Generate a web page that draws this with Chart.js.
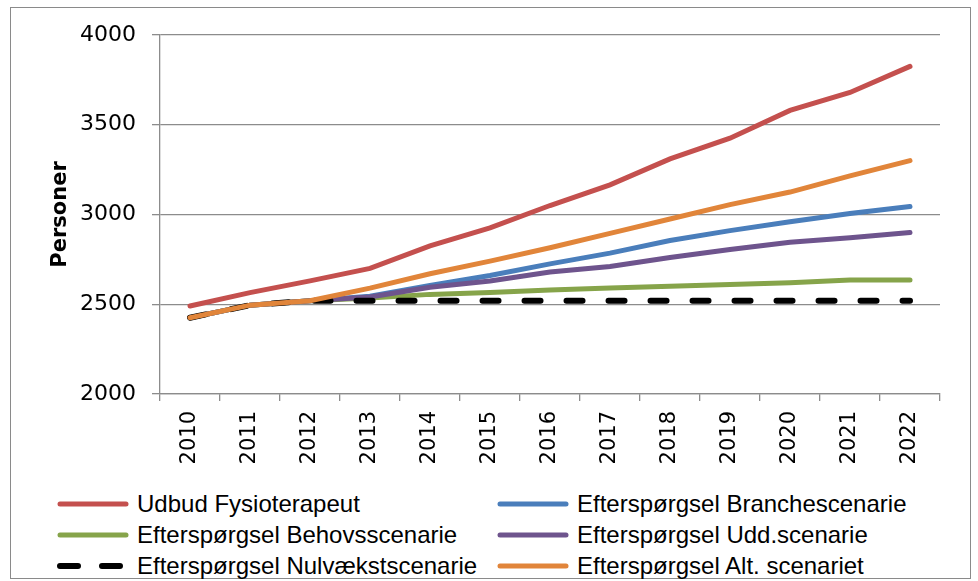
<!DOCTYPE html>
<html>
<head>
<meta charset="utf-8">
<script src="https://cdn.jsdelivr.net/npm/chart.js@4"></script>
<style>
  body { margin: 0; background: #fff; }
  #frame { position: absolute; left: 10px; top: 7px; width: 959px; height: 570px; border: 1px solid #8a8a8a; }
  #wrap { position: absolute; left: 0; top: 0; width: 978px; height: 480px; }
  #legend { position: absolute; left: 0; top: 489px; width: 978px; font-family: "Liberation Sans", sans-serif; font-size: 24px; color: #000; }
  .item { position: absolute; height: 30px; display: flex; align-items: center; white-space: nowrap; }
  .item canvas { margin-right: 7px; }
</style>
</head>
<body>
<div id="frame"></div>
<div id="wrap"><canvas id="chart"></canvas></div>
<div id="legend"></div>
<script>
const years = ['2010','2011','2012','2013','2014','2015','2016','2017','2018','2019','2020','2021','2022'];
const udbud   = [2490, 2565, 2630, 2700, 2825, 2925, 3050, 3165, 3310, 3425, 3580, 3680, 3825];
const branche = [2425, 2495, 2520, 2545, 2605, 2660, 2725, 2785, 2855, 2910, 2960, 3005, 3045];
const behovs  = [2425, 2495, 2520, 2535, 2555, 2565, 2580, 2590, 2600, 2610, 2620, 2635, 2635];
const udd     = [2425, 2495, 2520, 2540, 2595, 2630, 2680, 2710, 2760, 2805, 2845, 2870, 2900];
const nul     = [2425, 2495, 2520, 2520, 2520, 2520, 2520, 2520, 2520, 2520, 2520, 2520, 2520];
const alt     = [2425, 2495, 2520, 2590, 2670, 2740, 2815, 2895, 2975, 3055, 3125, 3215, 3300];
const names = ['Udbud Fysioterapeut', 'Efterspørgsel Branchescenarie', 'Efterspørgsel Behovsscenarie',
  'Efterspørgsel Udd.scenarie', 'Efterspørgsel Nulvækstscenarie', 'Efterspørgsel Alt. scenariet'];
const colors = ['#c4504e', '#4a7ebb', '#86a44a', '#6e548d', '#000000', '#e1853a'];

const series = [udbud, branche, behovs, udd, nul, alt];
const datasets = series.map((d, i) => ({
  label: names[i],
  data: d,
  borderColor: colors[i],
  borderWidth: i == 4 ? 6 : 5,
  borderDash: i == 4 ? [16, 26] : [],
  borderCapStyle: 'round',
  pointRadius: 0,
  tension: 0,
  order: 5 - i
}));

const canvas = document.getElementById('chart');
canvas.width = 978; canvas.height = 480;

new Chart(canvas, {
  type: 'line',
  data: { labels: years, datasets: datasets },
  options: {
    responsive: false,
    animation: false,
    layout: { padding: { left: 0, top: 35, right: 38, bottom: 0 } },
    plugins: { legend: { display: false }, tooltip: { enabled: false } },
    scales: {
      x: {
        offset: true,
        grid: { offset: true, drawOnChartArea: false, color: '#8c8c8c', lineWidth: 1.3, tickLength: 7 },
        border: { color: '#8c8c8c', width: 1.3 },
        ticks: { minRotation: 90, maxRotation: 90, padding: 10, color: '#000',
          font: { family: 'DejaVu Sans', size: 21 } },
        afterFit: s => { s.height = 86; }
      },
      y: {
        min: 2000, max: 4000,
        grid: { color: '#8c8c8c', lineWidth: 1.3, tickLength: 8 },
        border: { color: '#8c8c8c', width: 1.3 },
        ticks: { stepSize: 500, padding: 16, color: '#000',
          font: { family: 'DejaVu Sans', size: 22 },
          callback: v => String(v) },
        title: { display: true, text: 'Personer', color: '#000',
          font: { family: 'DejaVu Sans', size: 21, weight: 'bold' }, padding: { top: 48, bottom: 0 } },
        afterFit: s => { s.width = 160; }
      }
    }
  }
});

// legend in two columns
const legend = document.getElementById('legend');
const cols = [56, 496];
names.forEach((n, i) => {
  const el = document.createElement('div');
  el.className = 'item';
  el.style.left = cols[i % 2] + 'px';
  el.style.top = (Math.floor(i / 2) * 31) + 'px';
  const c = document.createElement('canvas');
  c.width = 74; c.height = 12;
  const g = c.getContext('2d');
  g.strokeStyle = colors[i];
  g.lineCap = 'round';
  g.lineWidth = i == 4 ? 6 : 5;
  if (i == 4) g.setLineDash([18, 24]);
  g.beginPath(); g.moveTo(4, 6); g.lineTo(70, 6); g.stroke();
  el.appendChild(c);
  const t = document.createElement('span');
  t.textContent = n;
  el.appendChild(t);
  legend.appendChild(el);
});
</script>
</body>
</html>
